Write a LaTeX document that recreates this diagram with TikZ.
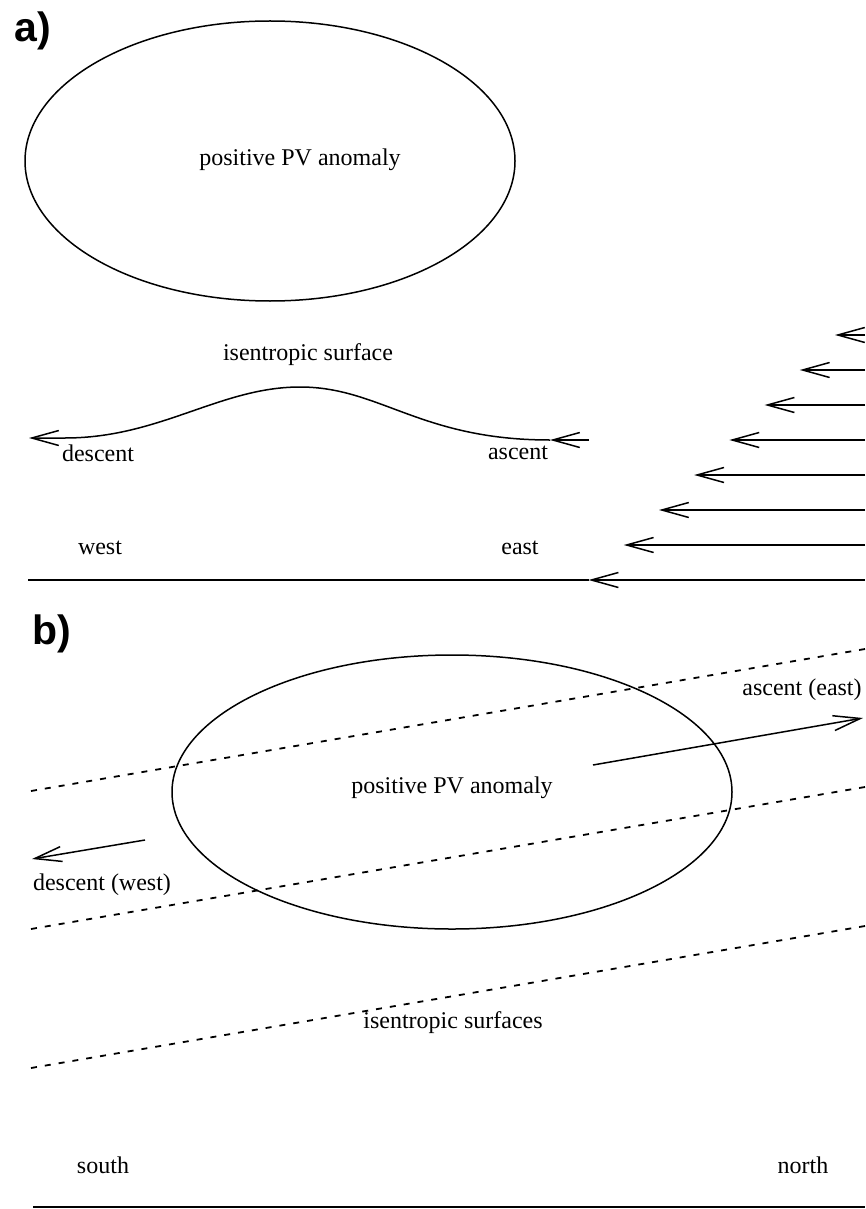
\documentclass[tikz,border=0pt]{standalone}
\usepackage{fontspec}
\setmainfont{Liberation Serif}
\newfontfamily\panelfont{Liberation Sans}
\usepackage{tikz}
\usetikzlibrary{arrows.meta}
\tikzstyle{txt} = [font=\fontsize{24}{28}\selectfont, inner sep=0pt]
\tikzstyle{panel} = [font=\panelfont\bfseries\fontsize{41}{44}\selectfont, inner sep=0pt]
\tikzstyle{outline} = [line width=1.5pt]
\tikzstyle{arrow} = [line width=1.5pt, -{Straight Barb[length=27pt,width=15pt]}]
\tikzstyle{surface} = [line width=1.8pt, dash pattern=on 6pt off 8pt]
\tikzstyle{ground} = [line width=2.2pt]

\begin{document}
\begin{tikzpicture}[x=1pt, y=-1pt]
      \useasboundingbox (0,0) rectangle (865,1209);
      % panel a
      \node (pa) [panel] at (33,31) {a)};
      \draw [outline] (270,161) ellipse [x radius=245, y radius=140];
      \node (pva) [txt] at (300,160) {positive PV anomaly};
      \node (isa) [txt] at (308,355) {isentropic surface};
      \draw [arrow] (589,440) -- (550,440);
      \draw [arrow] (550,440) .. controls (420,440) and (380,387) .. (300,387)
            .. controls (220,387) and (160,438) .. (65,438) -- (29,438);
      \node (desa) [txt] at (98,453) {descent};
      \node (asca) [txt] at (518,453) {ascent};
      \node (west) [txt] at (100,548) {west};
      \node (east) [txt] at (520,548) {east};
      \foreach \i in {0,...,7}
        \draw [arrow] (865,{335+35*\i}) -- ({835-35.2*\i},{335+35*\i});
      \draw [ground] (28,580) -- (589,580);
      % panel b
      \node (pb) [panel] at (52,634) {b)};
      \draw [outline] (452,792) ellipse [x radius=280, y radius=137];
      \foreach \y in {791,929,1068}
        \draw [surface] (31,\y) -- (865,{\y-142});
      \node (pvb) [txt] at (452,788) {positive PV anomaly};
      \draw [arrow] (593,765) -- (863,718);
      \node (ascb) [txt] at (802,690) {ascent (east)};
      \draw [arrow] (145,840) -- (32,859);
      \node (desb) [txt] at (102,885) {descent (west)};
      \node (isb) [txt] at (453,1023) {isentropic surfaces};
      \node (south) [txt] at (103,1165) {south};
      \node (north) [txt] at (803,1165) {north};
      \draw [ground] (33,1207) -- (865,1207);
    \end{tikzpicture}
\end{document}
